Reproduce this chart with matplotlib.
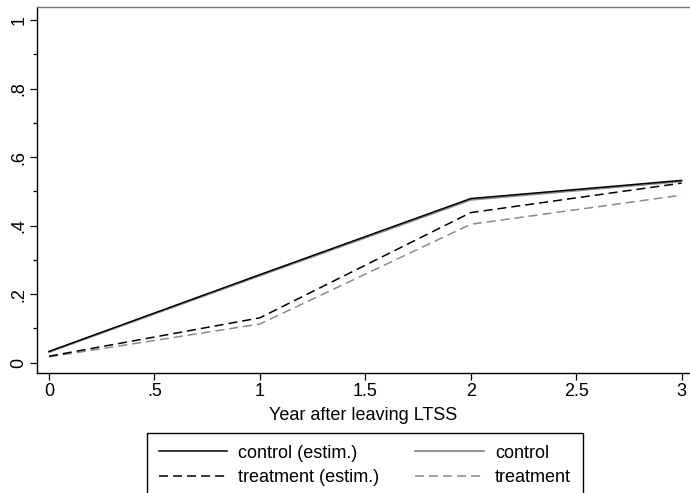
import numpy as np
import matplotlib
matplotlib.use("Agg")
import matplotlib.pyplot as plt
from matplotlib.patches import Rectangle
from matplotlib.ticker import MultipleLocator

# data
years = [0, 1, 2, 3]
control_estim = [0.033, 0.257, 0.479, 0.532]
control = [0.031, 0.254, 0.475, 0.529]
treatment_estim = [0.019, 0.131, 0.438, 0.524]
treatment = [0.017, 0.113, 0.404, 0.489]

x_ticks = [0, 0.5, 1, 1.5, 2, 2.5, 3]
x_tick_labels = ["0", ".5", "1", "1.5", "2", "2.5", "3"]
y_ticks = [0, 0.2, 0.4, 0.6, 0.8, 1]
y_tick_labels = ["0", ".2", ".4", ".6", ".8", "1"]

plt.rcParams['font.family'] = ['Liberation Sans', 'DejaVu Sans']
plt.rcParams['lines.scale_dashes'] = False

W, H = 690, 493
fs = 13
fig = plt.figure(figsize=(W / 100, H / 100), dpi=100)
ax = fig.add_axes([37 / W, (H - 373) / H, (W - 37) / W, (373 - 7) / H])

gray = "#8a8a8a"
dash = (0, (6.5, 3.6))
ax.plot(years, control, color=gray, lw=1.3, label="control", zorder=2)
ax.plot(years, control_estim, color="black", lw=1.1, label="control (estim.)", zorder=3)
ax.plot(years, treatment, color=gray, lw=1.1, linestyle=dash, label="treatment")
ax.plot(years, treatment_estim, color="black", lw=1.1, linestyle=dash,
        label="treatment (estim.)")

ax.set_xlim(-0.057, 3.04)
ax.set_ylim(-0.030, 1.038)
ax.set_xticks(x_ticks)
ax.set_xticklabels(x_tick_labels, fontsize=fs)
ax.set_yticks(y_ticks)
ax.set_yticklabels(y_tick_labels, rotation=90, va="center", fontsize=fs)
ax.yaxis.set_minor_locator(MultipleLocator(0.1))
ax.tick_params(axis="both", which="major", length=5, width=0.9, color="black", pad=2)
ax.tick_params(axis="y", which="minor", length=3, width=0.9)
ax.set_xlabel("Year after leaving LTSS", fontsize=fs, labelpad=5)

for side in ["left", "bottom"]:
    ax.spines[side].set_color("black")
    ax.spines[side].set_linewidth(1.0)
ax.spines["top"].set_color("#777777")
ax.spines["top"].set_linewidth(1.0)
ax.spines["right"].set_visible(False)

# legend order as in the picture: rows then columns
h, l = ax.get_legend_handles_labels()
order = {lab: hh for hh, lab in zip(h, l)}
labels = ["control (estim.)", "treatment (estim.)", "control", "treatment"]
leg = fig.legend([order[k] for k in labels], labels, ncol=2, loc="upper left",
                 bbox_to_anchor=(147 / W, 1 - 433 / H),
                 frameon=False, handlelength=3.8, handletextpad=0.6,
                 columnspacing=2.0, labelspacing=0.42, borderpad=0.65,
                 borderaxespad=0, fontsize=fs)

# legend box runs off the bottom edge like in the original export
fig.patches.append(Rectangle((147 / W, -0.05), (583 - 147) / W, (H - 433) / H + 0.05,
                             transform=fig.transFigure, fill=False,
                             edgecolor="black", linewidth=1.0))

fig.savefig("out.png", dpi=100)
